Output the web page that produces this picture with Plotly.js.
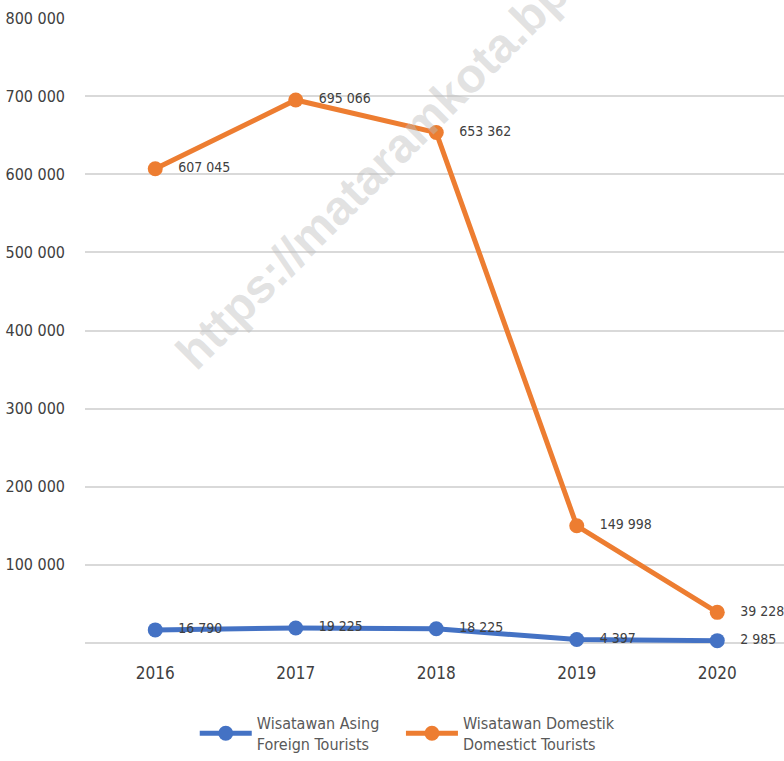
<!DOCTYPE html>
<html>
<head>
<meta charset="utf-8">
<script src="https://cdn.plot.ly/plotly-3.0.1.min.js"></script>
<style>
html,body{margin:0;padding:0;background:#fff;}
#chart{width:784px;height:761px;}
#chart text{font-stretch:condensed;}
</style>
</head>
<body>
<div id="chart"></div>
<script>
const years = ['2016', '2017', '2018', '2019', '2020'];
const foreignTourists = [16790, 19225, 18225, 4397, 2985];
const domesticTourists = [607045, 695066, 653362, 149998, 39228];
const foreignName = 'Wisatawan Asing<br>Foreign Tourists';
const domesticName = 'Wisatawan Domestik<br>Domestict Tourists';
const yTickVals = [100000, 200000, 300000, 400000, 500000, 600000, 700000, 800000];
const yTickText = ['100 000', '200 000', '300 000', '400 000', '500 000', '600 000', '700 000', '800 000'];
const watermark = 'https://mataramkota.bps.go.id';

const FONT = 'DejaVu Sans Condensed, DejaVu Sans, sans-serif';

const traces = [
  {
    x: years, y: foreignTourists, name: foreignName, type: 'scatter', mode: 'lines+markers+text',
    line: {color: '#4472C4', width: 5}, marker: {color: '#4472C4', size: 15},
    texttemplate: '\u2003%{y:,}', textposition: 'middle right',
    textfont: {family: FONT, size: 14, color: '#404040'}, cliponaxis: false,
    legend: 'legend'
  },
  {
    x: years, y: domesticTourists, name: domesticName, type: 'scatter', mode: 'lines+markers+text',
    line: {color: '#ED7D31', width: 5}, marker: {color: '#ED7D31', size: 15},
    texttemplate: '\u2003%{y:,}', textposition: 'middle right',
    textfont: {family: FONT, size: 14, color: '#404040'}, cliponaxis: false,
    legend: 'legend2'
  }
];

const legendStyle = {
  orientation: 'h', xanchor: 'left', y: -0.101, yanchor: 'top',
  font: {family: FONT, size: 16, color: '#595959'},
  itemwidth: 52, bgcolor: 'rgba(0,0,0,0)'
};

const layout = {
  width: 784, height: 761,
  margin: {l: 85, r: 0, t: 18, b: 118},
  paper_bgcolor: '#fff', plot_bgcolor: '#fff',
  separators: ', ',
  font: {family: FONT, color: '#404040'},
  showlegend: true,
  xaxis: {
    type: 'category', range: [-0.5, 4.475], showgrid: false, zeroline: false,
    showline: false, ticks: '', tickfont: {family: FONT, size: 17, color: '#404040'},
    ticklabelstandoff: 18
  },
  yaxis: {
    range: [0, 800000], tickvals: yTickVals, ticktext: yTickText,
    showgrid: true, gridcolor: '#d9d9d9', gridwidth: 2,
    zeroline: true, zerolinecolor: '#d9d9d9', zerolinewidth: 2,
    showline: false, ticks: '', tickfont: {family: FONT, size: 16, color: '#404040'},
    ticklabelstandoff: 19
  },
  legend: Object.assign({}, legendStyle, {x: 0.157}),
  legend2: Object.assign({}, legendStyle, {x: 0.452}),
  annotations: [{
    text: watermark, xref: 'paper', yref: 'paper', x: 0.488, y: 0.84,
    xanchor: 'center', yanchor: 'middle',
    showarrow: false, textangle: -45,
    font: {family: 'Liberation Sans, Arial, sans-serif', size: 48, color: 'rgba(190,190,190,0.45)', weight: 'bold'}
  }]
};

Plotly.newPlot('chart', traces, layout, {displayModeBar: false, staticPlot: true});
</script>
</body>
</html>
